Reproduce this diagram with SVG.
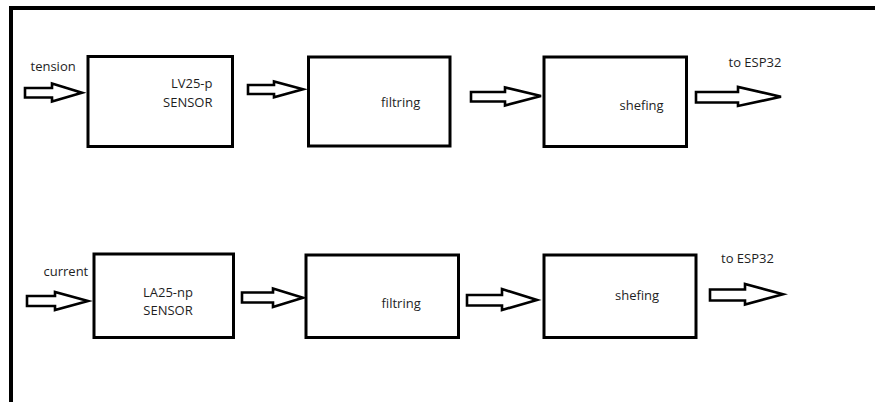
<svg xmlns="http://www.w3.org/2000/svg" width="875" height="402" viewBox="0 0 875 402">
<style>
.box{fill:#fff;stroke:#000;stroke-width:3}
.arr{fill:#fff;stroke:#000;stroke-width:2.6;stroke-linejoin:miter}
text{font-family:"Open Sans","Noto Sans","Liberation Sans",sans-serif;font-size:13px;fill:#1e1e1e}
</style>
<rect width="875" height="402" fill="#fff"/>
<path d="M11,402 L11,8 L875,8" fill="none" stroke="#000" stroke-width="4"/>
<g id="connectors">
<polygon class="arr" points="25,88 52,88 52,83.5 82,92.7 52,101.5 52,97.5 25,97.5"/>
<polygon class="arr" points="248,85 274,85 274,81.5 303,89.3 274,97.3 274,94 248,94"/>
<polygon class="arr" points="471,92 505,92 505,87.5 541,96 505,105.5 505,101.5 471,101.5"/>
<polygon class="arr" points="696,92 738,92 738,87 781,96.7 738,106 738,102.5 696,102.5"/>
<polygon class="arr" points="27,296 55,296 55,292 88,301 55,310 55,306 27,306"/>
<polygon class="arr" points="242,292.5 273,292.5 273,288.5 303,297.7 273,307 273,302.5 242,302.5"/>
<polygon class="arr" points="467,295 502,295 502,289 537,300 502,310 502,305.5 467,305.5"/>
<polygon class="arr" points="710,289.5 745,289.5 745,284 783,294.3 745,304.5 745,300.5 710,300.5"/>
</g>
<g id="lbl-tension"><text x="30.5" y="70.5">tension</text></g>
<g id="lbl-current"><text x="43.5" y="276">current</text></g>
<g id="lbl-esp-top"><text x="728.5" y="66.5">to ESP32</text></g>
<g id="lbl-esp-bot"><text x="721" y="262.5">to ESP32</text></g>
<g id="n-lv25">
<rect class="box" x="88" y="56.5" width="144.5" height="90"/>
<text x="212.5" y="88" text-anchor="end">LV25-p</text>
<text x="212.5" y="106.5" text-anchor="end">SENSOR</text>
</g>
<g id="n-filt1">
<rect class="box" x="308.5" y="57" width="141.5" height="89"/>
<text x="381" y="106.5">filtring</text>
</g>
<g id="n-shef1">
<rect class="box" x="544" y="57" width="142.5" height="89.5"/>
<text x="619.5" y="110">shefing</text>
</g>
<g id="n-la25">
<rect class="box" x="94" y="254" width="139.5" height="83.5"/>
<text x="168" y="297" text-anchor="middle">LA25-np</text>
<text x="168" y="315" text-anchor="middle">SENSOR</text>
</g>
<g id="n-filt2">
<rect class="box" x="306" y="255" width="152.5" height="82.5"/>
<text x="381.5" y="308">filtring</text>
</g>
<g id="n-shef2">
<rect class="box" x="544" y="255" width="152" height="82.5"/>
<text x="615" y="300">shefing</text>
</g>
</svg>
